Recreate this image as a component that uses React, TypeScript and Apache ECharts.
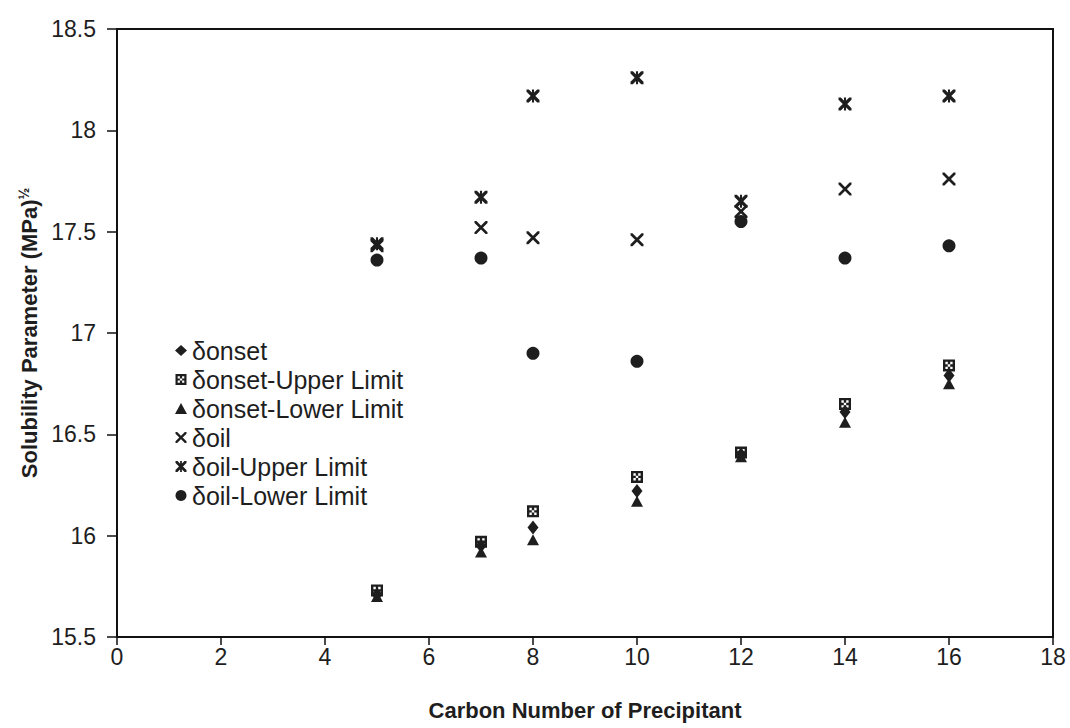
import React, { useEffect, useRef } from "react";
import * as echarts from "echarts";

const carbon = [5, 7, 8, 10, 12, 14, 16];
const onset = [15.71, 15.95, 16.04, 16.22, 16.4, 16.61, 16.79];
const onsetUpper = [15.73, 15.97, 16.12, 16.29, 16.41, 16.65, 16.84];
const onsetLower = [15.7, 15.92, 15.98, 16.17, 16.39, 16.56, 16.75];
const oil = [17.43, 17.52, 17.47, 17.46, 17.6, 17.71, 17.76];
const oilUpper = [17.44, 17.67, 18.17, 18.26, 17.65, 18.13, 18.17];
const oilLower = [17.36, 17.37, 16.9, 16.86, 17.55, 17.37, 17.43];
const seriesNames = [
  "δonset",
  "δonset-Upper Limit",
  "δonset-Lower Limit",
  "δoil",
  "δoil-Upper Limit",
  "δoil-Lower Limit",
];

const crossPath =
  "path://M0,0 L1.5,0 L10,8.5 L10,10 L8.5,10 L0,1.5 Z M8.5,0 L10,0 L10,1.5 L1.5,10 L0,10 L0,8.5 Z";
const starPath =
  "path://M0,0 L1.8,0 L10,8.2 L10,10 L8.2,10 L0,1.8 Z M8.2,0 L10,0 L10,1.8 L1.8,10 L0,10 L0,8.2 Z M4.2,0 L5.8,0 L5.8,10 L4.2,10 Z";
const hatchPath =
  "path://M0,0 L10,0 L10,10 L0,10 Z M2,2 L2,4 L4,4 L4,2 Z M6,2 L6,4 L8,4 L8,2 Z M2,6 L2,8 L4,8 L4,6 Z M6,6 L6,8 L8,8 L8,6 Z M4,4 L4,6 L6,6 L6,4 Z";

const ink = "#1e1e1e";

export default function App() {
  const ref = useRef<HTMLDivElement>(null);
  useEffect(() => {
    if (!ref.current) return;
    const chart = echarts.init(ref.current, undefined, { renderer: "svg" });
    const mk = (vals: number[]) => carbon.map((c, i) => [c, vals[i]]);
    const sets = [onset, onsetUpper, onsetLower, oil, oilUpper, oilLower];
    const symbols: any[] = ["diamond", hatchPath, "triangle", crossPath, starPath, "circle"];
    const sizes: any[] = [[11, 14], 12, [12, 11], 13, 13, 13];
    chart.setOption({
      animation: false,
      backgroundColor: "#fff",
      textStyle: { fontFamily: "Liberation Sans, Arial, sans-serif" },
      grid: {
        left: 117,
        right: 17,
        top: 29,
        bottom: 91,
        show: true,
        borderColor: "#111",
        borderWidth: 2,
      },
      legend: {
        orient: "vertical",
        left: 170,
        top: 333,
        itemWidth: 12,
        itemHeight: 11,
        itemGap: 4,
        data: seriesNames,
        textStyle: { fontSize: 25, color: ink, lineHeight: 24 },
      },
      xAxis: {
        type: "value",
        min: 0,
        max: 18,
        interval: 2,
        name: "Carbon Number of Precipitant",
        nameLocation: "middle",
        nameGap: 62,
        nameTextStyle: { fontSize: 22, fontWeight: "bold", color: ink },
        axisLine: { lineStyle: { color: "#111", width: 2 } },
        axisTick: { show: true, length: 8, lineStyle: { color: "#111", width: 1.5 } },
        axisLabel: { fontSize: 23, color: ink, margin: 8 },
        splitLine: { show: false },
      },
      yAxis: {
        type: "value",
        min: 15.5,
        max: 18.5,
        interval: 0.5,
        name: "Solubility Parameter (MPa){sup|½}",
        nameLocation: "middle",
        nameGap: 70,
        nameTextStyle: {
          fontSize: 22,
          fontWeight: "bold",
          color: ink,
          rich: { sup: { fontSize: 14, fontWeight: "bold", color: ink, verticalAlign: "top", padding: [0, 0, 10, 0] } },
        },
        axisLine: { show: true, lineStyle: { color: "#111", width: 2 } },
        axisTick: { show: true, length: 10, lineStyle: { color: "#111", width: 1.5 } },
        axisLabel: { fontSize: 23, color: ink, margin: 21 },
        splitLine: { show: false },
      },
      series: seriesNames.map((n, i) => ({
        name: n,
        type: "scatter",
        data: mk(sets[i]),
        symbol: symbols[i],
        symbolSize: sizes[i],
        itemStyle: { color: ink, opacity: 1 },
      })),
    });
    return () => chart.dispose();
  }, []);
  return (
    <div
      ref={ref}
      style={{ position: "fixed", left: 0, top: 0, width: 1070, height: 728 }}
    />
  );
}
